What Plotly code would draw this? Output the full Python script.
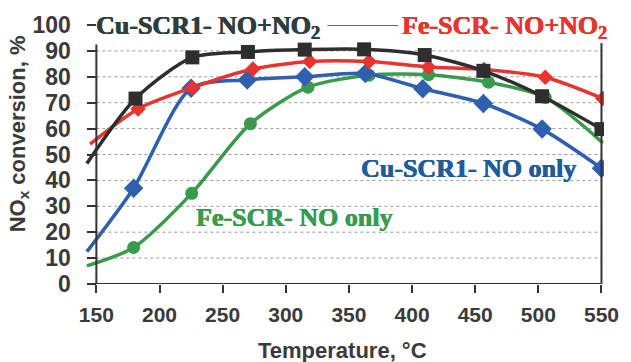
import plotly.graph_objects as go

# ---- data ----
x_ticks = [150, 200, 250, 300, 350, 400, 450, 500, 550]
y_ticks = [0, 10, 20, 30, 40, 50, 60, 70, 80, 90, 100]

cu_nox_x = [142.5, 181, 226, 270, 315, 362, 410, 456.5, 503, 550]
cu_nox_y = [46.5, 71.6, 87.5, 89.6, 90.5, 90.6, 88.4, 82.3, 72.5, 59.8]

fe_nox_x = [145, 183, 226, 274, 319, 366, 413, 457, 505.5, 551]
fe_nox_y = [54, 67.6, 75.8, 83, 85.9, 85.9, 83.8, 82.8, 79.8, 71.6]

cu_no_x = [142.5, 179.5, 225, 269.5, 315, 363, 408.5, 456.5, 503, 550]
cu_no_y = [12.5, 37, 75.6, 78.8, 80, 81.3, 75.4, 69.7, 59.8, 44.7]

fe_no_x = [142.5, 179.5, 225.5, 272, 317.5, 366, 413, 460.5, 505.5, 551]
fe_no_y = [7, 14.1, 35, 61.9, 76, 80.6, 80.8, 77.9, 72, 54.5]

BLACK = "#2e2e2e"
RED = "#e8342f"
BLUE = "#2f5fae"
GREEN = "#3a9a4c"

X_RANGE = [141, 552]
X_MIN, X_MAX = 150, 550
Y_TOP_LEFT, Y_TOP_RIGHT = 92.5, 93

fig = go.Figure()


def add_series(xs, ys, color, symbol, msize, last_marker=True):
    # line (through every point, including the unmarked start)
    fig.add_trace(go.Scatter(
        x=xs, y=ys, mode="lines",
        line=dict(color=color, width=3.5, shape="spline", smoothing=0.75),
        showlegend=False, hoverinfo="skip",
    ))
    mx = xs[1:] if last_marker else xs[1:-1]
    my = ys[1:] if last_marker else ys[1:-1]
    fig.add_trace(go.Scatter(
        x=mx, y=my, mode="markers",
        marker=dict(color=color, symbol=symbol, size=msize, opacity=1, line=dict(width=0)),
        showlegend=False, hoverinfo="skip",
    ))


add_series(fe_no_x, fe_no_y, GREEN, "circle", 13, last_marker=False)
add_series(cu_no_x, cu_no_y, BLUE, "diamond", 15)
add_series(fe_nox_x, fe_nox_y, RED, "diamond", 12)
add_series(cu_nox_x, cu_nox_y, BLACK, "square", 14)

shapes = []
# dotted gridlines
for v in y_ticks[1:-1]:
    shapes.append(dict(type="line", xref="x", yref="y", x0=X_MIN, x1=X_MAX, y0=v, y1=v,
                       line=dict(color="#9a9a9a", width=1, dash="dot"), layer="below"))
# axis frame
shapes.append(dict(type="line", xref="x", yref="y", x0=X_MIN, x1=X_MAX, y0=0, y1=0,
                   line=dict(color="#333333", width=2), layer="above"))
shapes.append(dict(type="line", xref="x", yref="y", x0=X_MIN, x1=X_MIN, y0=0, y1=Y_TOP_LEFT,
                   line=dict(color="#333333", width=2), layer="above"))
shapes.append(dict(type="line", xref="x", yref="y", x0=X_MAX, x1=X_MAX, y0=0, y1=Y_TOP_RIGHT,
                   line=dict(color="#333333", width=2), layer="above"))
# legend-like connector line between the two top labels
shapes.append(dict(type="line", xref="x", yref="y", x0=333, x1=389, y0=100, y1=100,
                   line=dict(color="#333333", width=1.5), layer="above"))

serif = "Liberation Serif"
sans = "Liberation Sans"


def serif_font(color):
    return dict(family=serif, size=26, color=color,
                shadow="0.5px 0px 0px %s, -0.3px 0px 0px %s" % (color, color))


annotations = [
    dict(text="<b>Cu-SCR1- NO+NO<sub>2</sub></b>", x=148.4, y=99.2, xref="x", yref="y",
         xanchor="left", yanchor="middle", showarrow=False, font=serif_font("#2e3e3a")),
    dict(text="<b>Fe-SCR- NO+NO<sub>2</sub></b>", x=390.8, y=99.2, xref="x", yref="y",
         xanchor="left", yanchor="middle", showarrow=False, font=serif_font("#e53530")),
    dict(text="<b>Cu-SCR1- NO only</b>", x=358, y=44.7, xref="x", yref="y",
         xanchor="left", yanchor="middle", showarrow=False, font=serif_font("#1f5c9a")),
    dict(text="<b>Fe-SCR- NO only</b>", x=227.7, y=25.8, xref="x", yref="y",
         xanchor="left", yanchor="middle", showarrow=False, font=serif_font("#3a9a50")),
    dict(text="<b>NO<sub>x</sub> conversion, %</b>", x=-0.128, y=58, xref="paper", yref="y",
         xanchor="center", yanchor="middle", textangle=-90, showarrow=False,
         font=dict(family=sans, size=22, color="#3a3a3a")),
    dict(text="<b>Temperature, °C</b>", x=0.496, y=-0.2576, xref="paper", yref="paper",
         xanchor="center", yanchor="middle", showarrow=False,
         font=dict(family=sans, size=22, color="#3a3a3a")),
]

fig.update_layout(
    width=631, height=362,
    margin=dict(l=85, r=16, t=20, b=78),
    paper_bgcolor="white", plot_bgcolor="white",
    shapes=shapes, annotations=annotations,
    xaxis=dict(range=X_RANGE, tickvals=x_ticks, ticktext=["<b>%d</b>" % t for t in x_ticks],
               showgrid=False, zeroline=False, showline=False,
               ticks="outside", ticklen=8, tickwidth=2, tickcolor="#333333",
               tickfont=dict(family=sans, size=21, color="#3a3a3a"), ticklabelstandoff=4),
    yaxis=dict(range=[0, 100], tickvals=y_ticks, ticktext=["<b>%d</b>" % t for t in y_ticks],
               anchor="free", position=(X_MIN - X_RANGE[0]) / (X_RANGE[1] - X_RANGE[0]),
               showgrid=False, zeroline=False, showline=False,
               ticks="outside", ticklen=9, tickwidth=2, tickcolor="#333333",
               tickfont=dict(family=sans, size=23, color="#3a3a3a"),
               ticklabelstandoff=12),
)

fig.write_html("out.html")
